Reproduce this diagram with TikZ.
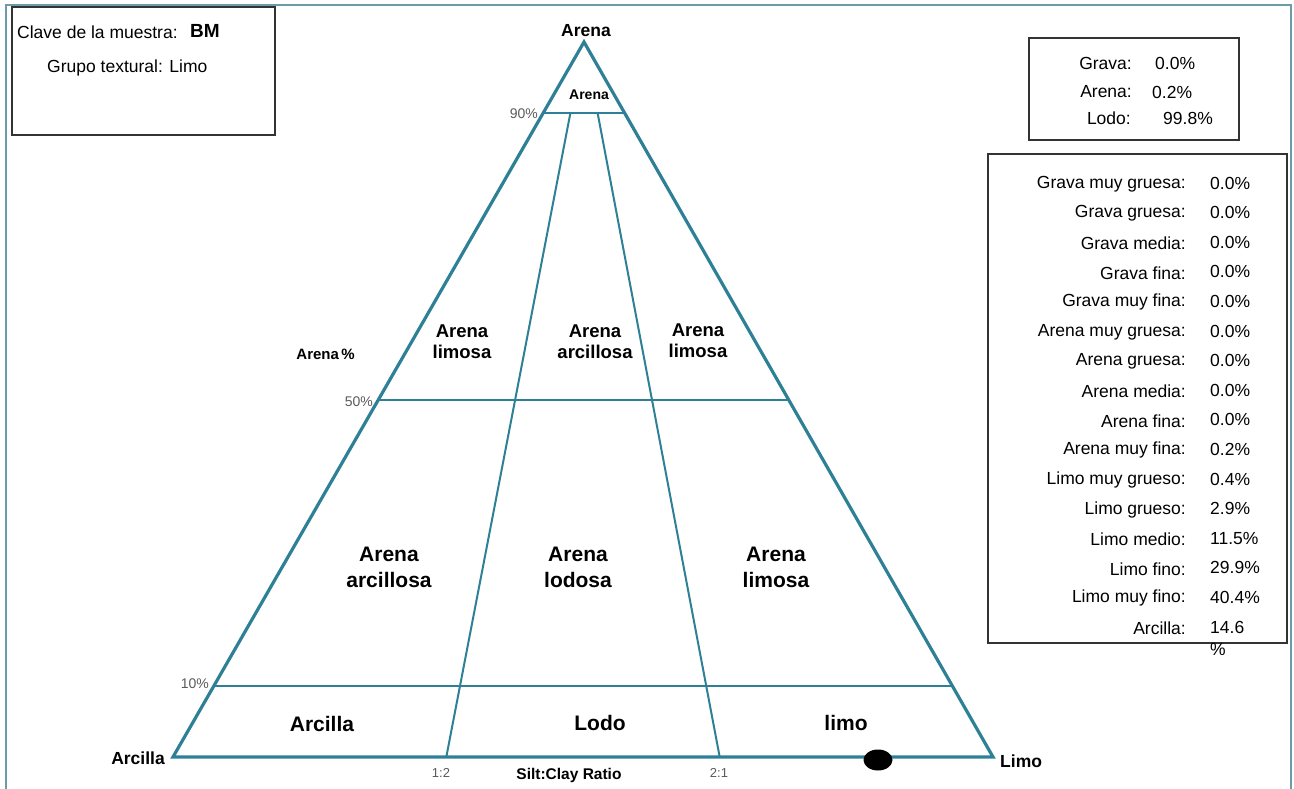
\documentclass[tikz,border=0pt]{standalone}
\usepackage{fontspec}
\setmainfont{Liberation Sans}
\definecolor{soil}{RGB}{46,128,150}
\definecolor{framec}{RGB}{110,155,165}
\definecolor{pctgray}{RGB}{90,90,90}

\begin{document}
\begin{tikzpicture}[x=1pt, y=-1pt,
  edge/.style = {draw=soil, line width=3.2pt, line join=miter},
  split/.style = {draw=soil, line width=2pt},
  region/.style = {align=center, font=\bfseries\fontsize{18.5}{21}\selectfont},
  bigregion/.style = {align=center, font=\bfseries\fontsize{21}{26}\selectfont},
  pct/.style = {text=pctgray, font=\fontsize{14}{16}\selectfont, inner sep=0},
  corner/.style = {font=\bfseries\fontsize{17.5}{20}\selectfont, inner sep=0},
  info/.style = {font=\fontsize{17.5}{20}\selectfont, inner sep=0},
  box/.style = {draw=black!80, line width=1.5pt}]

\useasboundingbox (0,0) rectangle (1294,789);
% outer frame
\draw[framec, line width=2pt] (6,800) -- (6,5) -- (1291,5) -- (1291,800);

% triangle corners and class limits
\coordinate (sand) at (584,42);
\coordinate (clay) at (173,757);
\coordinate (silt) at (993,757);
\coordinate (s90l) at (543,113.5);
\coordinate (s90r) at (625,113.5);
\coordinate (s50l) at (378.5,399.5);
\coordinate (s50r) at (788.5,399.5);
\coordinate (s10l) at (214,685.5);
\coordinate (s10r) at (952,685.5);
\coordinate (r12) at (446.3,757);
\coordinate (r21) at (719.7,757);
\coordinate (t12) at (570.3,113.5);
\coordinate (t21) at (597.7,113.5);

\draw[split] (s90l) -- (s90r);
\draw[split] (s50l) -- (s50r);
\draw[split] (s10l) -- (s10r);
\draw[split] (r12) -- (t12);
\draw[split] (r21) -- (t21);
\draw[edge] (sand) -- (clay) -- (silt) -- cycle;

% sample point
\fill (878,760) ellipse (14.5 and 10.5);

% corner and axis labels
\node[corner] (lsand) at (586,31) {Arena};
\node[corner] (lclay) at (138,758) {Arcilla};
\node[corner, anchor=west] (lsilt) at (1000,761) {Limo};
\node[pct, anchor=east] (p90) at (538,114) {90\%};
\node[pct, anchor=east] (p50) at (373,402) {50\%};
\node[pct, anchor=east] (p10) at (209,684) {10\%};
\node[font=\bfseries\fontsize{15}{18}\selectfont, inner sep=0, anchor=east] (axis) at (355,354) {Arena\,\%};
\node[pct, font=\fontsize{13}{15}\selectfont] (q12) at (441,773) {1:2};
\node[pct, font=\fontsize{13}{15}\selectfont] (q21) at (719,773) {2:1};
\node[font=\bfseries\fontsize{15.5}{18}\selectfont] (ratio) at (569,775) {Silt:Clay Ratio};

% class names
\node[font=\bfseries\fontsize{14}{16}\selectfont] (c1) at (589,95) {Arena};
\node[region] (c2) at (462,342) {Arena\\limosa};
\node[region] (c3) at (595,342) {Arena\\arcillosa};
\node[region] (c4) at (698,341) {Arena\\limosa};
\node[bigregion] (c5) at (389,567) {Arena\\arcillosa};
\node[bigregion] (c6) at (578,567) {Arena\\lodosa};
\node[bigregion] (c7) at (776,567) {Arena\\limosa};
\node[bigregion] (c8) at (322,724) {Arcilla};
\node[bigregion] (c9) at (600,723) {Lodo};
\node[bigregion] (c10) at (846,723) {limo};

% sample box
\draw[box] (12,7) rectangle (275,135);
\node[info, anchor=west] (key) at (17,32) {Clave de la muestra:};
\node[font=\bfseries\fontsize{19}{22}\selectfont, inner sep=0, anchor=west] (keyval) at (190,31) {BM};
\node[info, anchor=west] (group) at (47,68) {Grupo textural: Limo};

% totals box
\draw[box] (1029,38) rectangle (1239,140);
\node[info, anchor=east] (g) at (1132,63) {Grava:};
\node[info, anchor=west] (gv) at (1155,63) {0.0\%};
\node[info, anchor=east] (a) at (1132,92) {Arena:};
\node[info, anchor=west] (av) at (1152,92) {0.2\%};
\node[info, anchor=east] (l) at (1131,118) {Lodo:};
\node[info, anchor=west] (lv) at (1163,118) {99.8\%};

% fractions box
\draw[box] (988,154) rectangle (1287,643);
\foreach \name/\val [count=\i from 0] in {Grava muy gruesa/0.0, Grava gruesa/0.0,
    Grava media/0.0, Grava fina/0.0, Grava muy fina/0.0, Arena muy gruesa/0.0,
    Arena gruesa/0.0, Arena media/0.0, Arena fina/0.0, Arena muy fina/0.2,
    Limo muy grueso/0.4, Limo grueso/2.9, Limo medio/11.5, Limo fino/29.9,
    Limo muy fino/40.4}
  {
  \node[info, anchor=east] (f\i) at (1186,{184+29.6*\i}) {\name:};
  \node[info, anchor=west] (v\i) at (1210,{183+29.6*\i}) {\val\%};
  }
\node[info, anchor=east] (f15) at (1186,628) {Arcilla:};
\node[info, anchor=north west, align=left, font=\fontsize{17.5}{22}\selectfont] (v15) at (1210,621) {14.6\\\%};
\end{tikzpicture}
\end{document}
